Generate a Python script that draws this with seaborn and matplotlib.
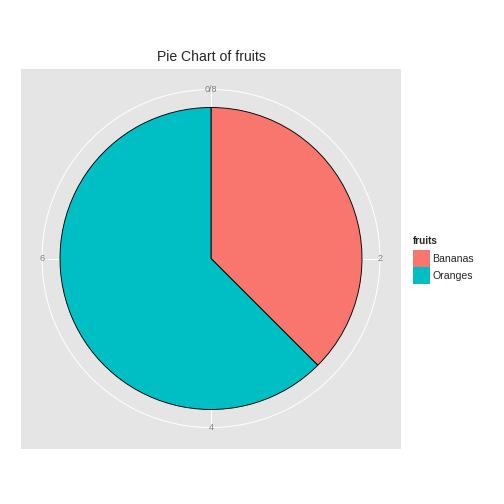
import numpy as np
import matplotlib
matplotlib.use("Agg")
import matplotlib.pyplot as plt
import seaborn as sns

fruits = ["Bananas", "Oranges"]
counts = [3, 5]
tick_values = [0, 2, 4, 6]
tick_labels = ["0/8", "2", "4", "6"]
colors = ["#F8766D", "#00BFC4"]

sns.set_style("white")
plt.rcParams["font.family"] = ["Liberation Sans", "DejaVu Sans"]

fig = plt.figure(figsize=(7, 7), dpi=72)
ax = fig.add_axes([21 / 504, 1 - 449 / 504, 380 / 504, 381 / 504])
lim = 190 / 151

total = sum(counts)
r_out = 169 / 151
# grid circle and spokes
t = np.linspace(0, 2 * np.pi, 400)
ax.plot(r_out * np.cos(t), r_out * np.sin(t), color="white", lw=1.0, zorder=1)
for v, lab in zip(tick_values, tick_labels):
    ang = np.pi / 2 - 2 * np.pi * v / total
    ax.plot([0, r_out * np.cos(ang)], [0, r_out * np.sin(ang)], color="white", lw=1.0, zorder=1)
    ax.text(r_out * np.cos(ang), r_out * np.sin(ang), lab, ha="center", va="center",
            fontsize=9, color="#7F7F7F", zorder=3)

wedges, _ = ax.pie(counts, colors=colors, startangle=90, counterclock=False,
                   radius=1.0, frame=True,
                   wedgeprops=dict(edgecolor="black", linewidth=0.9))
for w in wedges:
    w.set_zorder(2)
ax.set_facecolor("#E5E5E5")
ax.set_xlim(-lim, lim)
ax.set_ylim(-lim, lim)
ax.set_aspect("equal")
for s in ax.spines.values():
    s.set_visible(False)
ax.set_xticks([])
ax.set_yticks([])

fig.suptitle("Pie Chart of fruits", x=211 / 504, y=1 - 50 / 504, fontsize=14, va="top")

leg = fig.legend(wedges, fruits, title="fruits", loc="upper left",
                 bbox_to_anchor=(411 / 504, 1 - 234 / 504), frameon=False,
                 fontsize=10.5, title_fontsize=10, handlelength=1.6, handleheight=2.1,
                 labelspacing=0.0, handletextpad=0.25, borderaxespad=0, borderpad=0.2)
leg.get_title().set_fontweight("bold")
leg._legend_box.align = "left"
leg._legend_box.sep = 4
for h in leg.legend_handles:
    h.set_edgecolor("none")

fig.savefig("out.png", dpi=72, facecolor="white")
